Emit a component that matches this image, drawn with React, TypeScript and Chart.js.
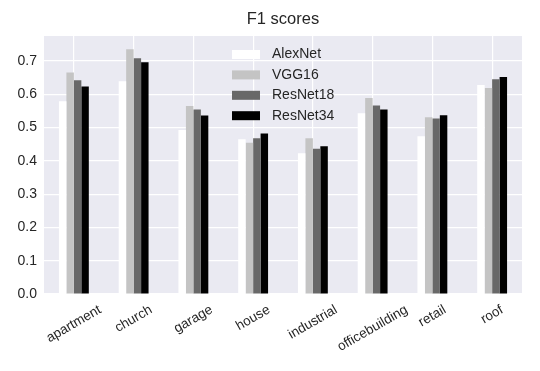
import React, { useEffect, useRef } from "react";
import { Chart, registerables } from "chart.js";

Chart.register(...registerables);

const categories = ["apartment", "church", "garage", "house", "industrial", "officebuilding", "retail", "roof"];
const alexNet = [0.579, 0.639, 0.493, 0.465, 0.423, 0.543, 0.474, 0.628];
const vgg16 = [0.665, 0.735, 0.565, 0.454, 0.468, 0.589, 0.531, 0.619];
const resNet18 = [0.642, 0.708, 0.554, 0.468, 0.436, 0.566, 0.527, 0.645];
const resNet34 = [0.623, 0.696, 0.536, 0.482, 0.444, 0.554, 0.537, 0.652];
const seriesNames = ["AlexNet", "VGG16", "ResNet18", "ResNet34"];
const seriesColors = ["#ffffff", "#c4c4c4", "#686868", "#000000"];
const chartTitle = "F1 scores";

const FONT = "'Liberation Sans', Arial, sans-serif";
const TEXT = "#262626";

const decorPlugin = {
  id: "decor",
  beforeDraw(chart: any) {
    const { ctx, chartArea } = chart;
    ctx.save();
    ctx.fillStyle = "#EAEAF2";
    ctx.fillRect(chartArea.left, chartArea.top, chartArea.right - chartArea.left, chartArea.bottom - chartArea.top);
    ctx.restore();
  },
  afterDraw(chart: any) {
    const { ctx, chartArea } = chart;
    const cx = (chartArea.left + chartArea.right) / 2;
    ctx.save();
    // title
    ctx.fillStyle = TEXT;
    ctx.font = `16.5px ${FONT}`;
    ctx.textAlign = "center";
    ctx.textBaseline = "middle";
    ctx.fillText(chartTitle, cx, 19);
    // legend
    ctx.font = `14px ${FONT}`;
    ctx.textAlign = "left";
    seriesNames.forEach((name, i) => {
      const y = chartArea.top + 18.5 + i * 20.4;
      ctx.fillStyle = seriesColors[i];
      ctx.fillRect(cx - 51, y - 4.5, 28, 9);
      ctx.fillStyle = TEXT;
      ctx.fillText(name, cx - 11, y);
    });
    // x labels rotated 30deg, centered (matplotlib style)
    const xScale = chart.scales.x;
    ctx.font = `13.5px ${FONT}`;
    ctx.textAlign = "center";
    ctx.textBaseline = "middle";
    const a = Math.PI / 6;
    const h = 13.5;
    categories.forEach((lab, i) => {
      const x = xScale.getPixelForValue(i);
      const w = ctx.measureText(lab).width;
      const H = w * Math.sin(a) + h * Math.cos(a);
      const top = chartArea.bottom + 9;
      ctx.save();
      ctx.translate(x, top + H / 2);
      ctx.rotate(-a);
      ctx.fillStyle = TEXT;
      ctx.fillText(lab, 0, 0);
      ctx.restore();
    });
    ctx.restore();
  },
};

export default function App() {
  const ref = useRef<HTMLCanvasElement>(null);
  useEffect(() => {
    document.body.style.margin = "0";
    const datasets = [alexNet, vgg16, resNet18, resNet34].map((d, i) => ({
      label: seriesNames[i],
      data: d,
      backgroundColor: seriesColors[i],
      borderWidth: 0,
      categoryPercentage: 0.5,
      barPercentage: 1.0,
    }));
    const chart = new Chart(ref.current!, {
      type: "bar",
      data: { labels: categories, datasets },
      options: {
        animation: false,
        responsive: false,
        layout: { padding: { top: 36, right: 18, left: 0, bottom: 0 } },
        plugins: { legend: { display: false }, title: { display: false }, tooltip: { enabled: false } },
        scales: {
          x: {
            grid: { offset: false, color: "#ffffff", lineWidth: 1.2, drawTicks: false },
            border: { display: false },
            ticks: { display: false },
            afterFit: (s: any) => { s.height = 77; },
          },
          y: {
            min: 0,
            max: 0.775,
            grid: { color: "#ffffff", lineWidth: 1.2, drawTicks: false },
            border: { display: false },
            ticks: {
              stepSize: 0.1,
              includeBounds: false,
              padding: 7,
              color: TEXT,
              font: { family: FONT, size: 14 },
              callback: (v: any) => Number(v).toFixed(1),
            },
            afterFit: (s: any) => { s.width = 44; },
          },
        },
      },
      plugins: [decorPlugin],
    });
    return () => chart.destroy();
  }, []);
  return (
    <div style={{ width: 540, height: 371, background: "#fff" }}>
      <canvas ref={ref} width={540} height={371} style={{ display: "block" }} />
    </div>
  );
}
